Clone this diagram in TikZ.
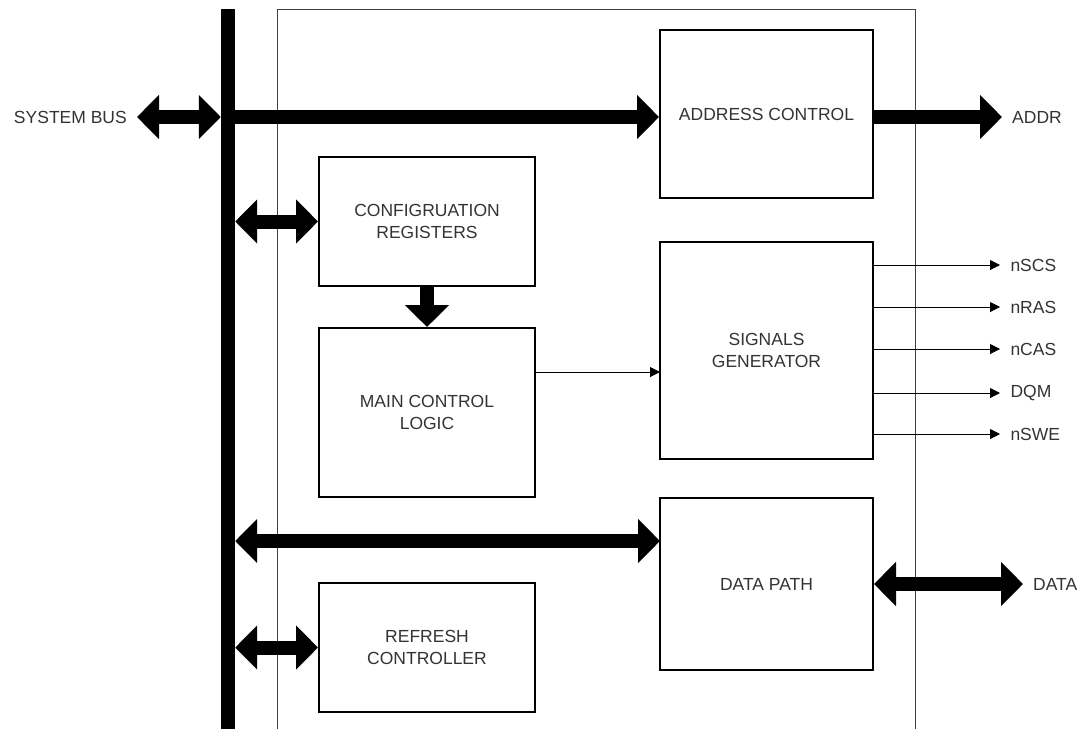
\documentclass[tikz,border=0pt]{standalone}
\usepackage{fontspec}
\setmainfont{Liberation Sans}
\usetikzlibrary{arrows.meta,positioning}

\begin{document}
\begin{tikzpicture}[x=1pt, y=-1pt, font=\fontsize{17.5}{22}\selectfont, text=black!80, >={Triangle[length=10pt, width=10pt]}]
    \tikzstyle{block}  = [rectangle, draw, line width=2pt, align=center, inner sep=0]
    \tikzstyle{wblock} = [block, minimum width=213pt]
    \tikzstyle{nblock} = [block, minimum width=216pt]
    \tikzstyle{fat}    = [line width=14pt, -{Triangle[length=22pt, width=43pt]}]
    \tikzstyle{fatboth}= [line width=14pt, {Triangle[length=22pt, width=43pt]}-{Triangle[length=22pt, width=43pt]}]
    \tikzstyle{sigline}= [->, line width=1pt]
    \tikzstyle{tag}    = [inner sep=0]

    \useasboundingbox (0,0) rectangle (1083,729);
    \draw[line width=0.8pt, black!75] (277,729) -- (277,9) -- (915,9) -- (915,729);

    \node[fill, inner sep=0, minimum width=14pt, minimum height=720pt] (bus) at (228,369) {};

    \node[wblock, minimum height=168pt] (addr) at (766.5,114)   {ADDRESS CONTROL};
    \node[nblock, minimum height=129pt] (cfg)  at (427,221.5)   {CONFIGRUATION\\REGISTERS};
    \node[nblock, minimum height=169pt] (mcl)  at (427,412.5)   {MAIN CONTROL\\LOGIC};
    \node[wblock, minimum height=217pt] (sig)  at (766.5,350.5) {SIGNALS\\GENERATOR};
    \node[wblock, minimum height=172pt] (dp)   at (766.5,584)   {DATA PATH};
    \node[nblock, minimum height=129pt] (rfc)  at (427,647.5)   {REFRESH\\CONTROLLER};

    \coordinate (sb) at (137,117);
    \coordinate (ad) at (1002,117);
    \coordinate (mc) at (660,372);
    \coordinate (db) at (660,541);
    \coordinate (da) at (1023,584);

    \node[tag, left=10pt of sb]  {SYSTEM BUS};
    \node[tag, right=10pt of ad] {ADDR};
    \node[tag, right=10pt of da] {DATA};

    \draw[fatboth] (sb) -- (bus.west |- sb);
    \draw[fat]     (bus.east |- sb) -- (addr.west |- sb);
    \draw[fat]     (addr.east |- ad) -- (ad);
    \draw[fatboth] (bus.east |- cfg) -- (cfg.west);
    \draw[fat]     (cfg.south) -- (mcl.north);
    \draw[sigline] (mcl.east |- mc) -- (mc);
    \draw[fatboth] (bus.east |- db) -- (db);
    \draw[fatboth] (dp.east) -- (da);
    \draw[fatboth] (bus.east |- rfc) -- (rfc.west);

    \foreach \y/\s in {265/nSCS, 307/nRAS, 349/nCAS, 393/DQM, 434/nSWE}
      \draw[sigline] (sig.east |- 0,\y) -- (1000,\y) node[tag, right=10pt] {\s};
\end{tikzpicture}
\end{document}
